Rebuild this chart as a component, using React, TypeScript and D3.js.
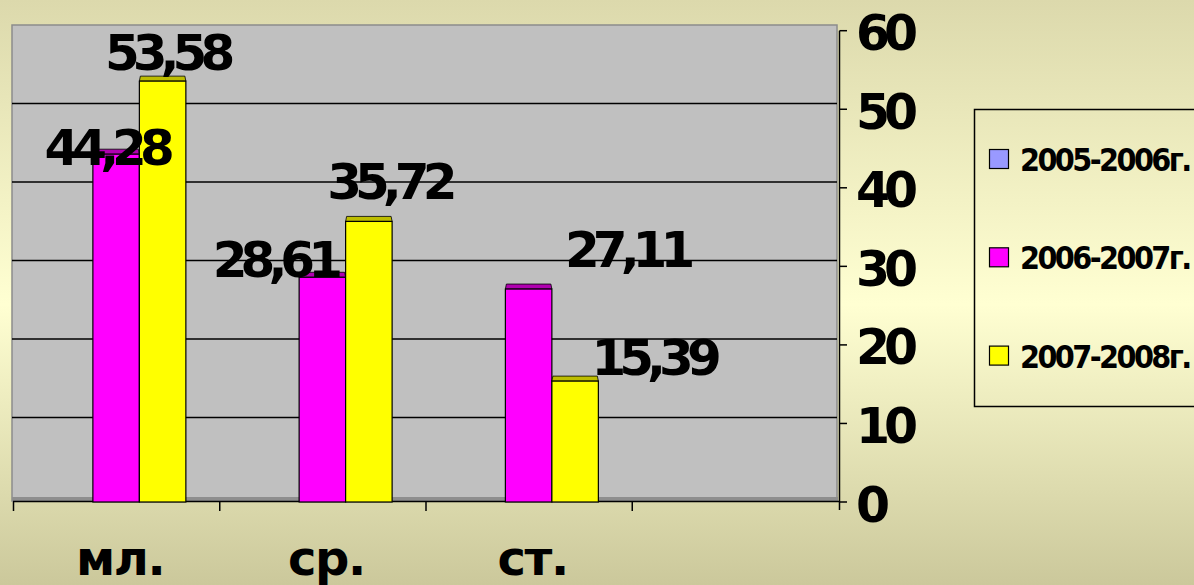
import * as d3 from 'd3';

// data
const categories = ['мл.', 'ср.', 'ст.', ''];
const seriesNames = ['2005-2006г.', '2006-2007г.', '2007-2008г.'];
const seriesColors = ['#9999FF', '#FF00FF', '#FFFF00'];
const capColors = ['#7777CC', '#B000B0', '#BDBD00'];
const values2005: (number | null)[] = [null, null, null, null];
const values2006: (number | null)[] = [44.28, 28.61, 27.11, null];
const values2007: (number | null)[] = [53.58, 35.72, 15.39, null];
const yTicks = [0, 10, 20, 30, 40, 50, 60];

// hand-placed label nudges (dx, dy) as in the original slide
const labelNudge2006 = [[-10, 11], [-48, 0], [98, -22]];
const labelNudge2007 = [[4, -11], [20, -22], [78, -6]];

const seriesValues = [values2005, values2006, values2007];
const nudges = [[], labelNudge2006, labelNudge2007];

const W = 1194;
const H = 585;
const left = 13;
const right = 838;

const BOLD = '"DejaVu Sans", sans-serif';
const COND = '"DejaVu Sans Condensed", "DejaVu Sans", sans-serif';

export default function App() {
  const keys = categories.map((c, i) => c + i);
  const x = d3.scaleBand<string>().domain(keys).range([left, right]).padding(0);
  const inner = d3
    .scaleBand<string>()
    .domain(seriesNames)
    .range([0, x.bandwidth()])
    .paddingInner(0)
    .paddingOuter(0.718);
  const y = d3.scaleLinear().domain([0, 60]).range([502, 30.7]);
  const yWall = d3.scaleLinear().domain([0, 60]).range([496, 25]);
  const bw = inner.bandwidth();
  const fmt = (v: number) => v.toFixed(2).replace('.', ',');

  return (
    <svg width={W} height={H} style={{ position: 'absolute', left: 0, top: 0 }}>
      <defs>
        <linearGradient id="bg" x1="0" y1="0" x2="0" y2="1">
          <stop offset="0%" stopColor="#DCD9AC" />
          <stop offset="52%" stopColor="#FFFFD2" />
          <stop offset="100%" stopColor="#CBC89B" />
        </linearGradient>
      </defs>
      <rect x={0} y={0} width={W} height={H} fill="url(#bg)" />

      {/* back wall */}
      <rect x={12} y={25} width={825} height={476} fill="#C0C0C0" stroke="#8C8C8C" strokeWidth={1.5} />
      {yTicks
        .filter((t) => t > 0 && t < 60)
        .map((t) => (
          <line key={t} x1={12} x2={837} y1={yWall(t)} y2={yWall(t)} stroke="#000" strokeWidth={1.5} />
        ))}
      {/* floor */}
      <rect x={12} y={yWall(0) + 1} width={826} height={y(0) - yWall(0) - 1} fill="#8E8E8E" />
      <line x1={left} x2={right + 2} y1={y(0) - 0.5} y2={y(0) - 0.5} stroke="#000" strokeWidth={1.5} />

      {/* bars */}
      {seriesValues.map((vals, si) =>
        vals.map((v, ci) => {
          if (v == null) return null;
          const bx = (x(keys[ci]) as number) + (inner(seriesNames[si]) as number);
          const top = y(v);
          return (
            <g key={`${si}-${ci}`}>
              <polygon
                points={`${bx},${top} ${bx + 1},${top - 5} ${bx + bw - 1},${top - 5} ${bx + bw},${top}`}
                fill={capColors[si]}
                stroke="#000"
                strokeWidth={0.8}
              />
              <rect x={bx} y={top} width={bw} height={y(0) - top} fill={seriesColors[si]} stroke="#000" strokeWidth={1.2} />
            </g>
          );
        })
      )}

      {/* value labels */}
      {seriesValues.map((vals, si) =>
        vals.map((v, ci) => {
          if (v == null) return null;
          const cx = (x(keys[ci]) as number) + (inner(seriesNames[si]) as number) + bw / 2;
          const [dx, dy] = nudges[si][ci] || [0, 0];
          return (
            <text
              key={`l${si}-${ci}`}
              x={cx + dx}
              y={y(v) + dy}
              textAnchor="middle"
              fontFamily={BOLD}
              fontWeight="bold"
              fontSize={50}
              letterSpacing={-7}
              fill="#000"
            >
              {fmt(v)}
            </text>
          );
        })
      )}

      {/* right value axis */}
      <line x1={right + 1.5} x2={right + 1.5} y1={y(60)} y2={y(0) + 8} stroke="#000" strokeWidth={1.5} />
      {yTicks.map((t) => (
        <g key={`yt${t}`}>
          <line x1={right + 1.5} x2={right + 9} y1={y(t)} y2={y(t)} stroke="#000" strokeWidth={1.5} />
          <text
            x={856}
            y={y(t) + 3}
            dominantBaseline="central"
            fontFamily={BOLD}
            fontWeight="bold"
            fontSize={49}
            letterSpacing={-6}
            fill="#000"
          >
            {t}
          </text>
        </g>
      ))}

      {/* category axis */}
      {keys.map((k) => (
        <line
          key={`xt${k}`}
          x1={(x(k) as number) + 0.5}
          x2={(x(k) as number) + 0.5}
          y1={y(0)}
          y2={y(0) + 9}
          stroke="#000"
          strokeWidth={1.5}
        />
      ))}
      {keys.map((k, i) => (
        <text
          key={`xl${k}`}
          x={(x(k) as number) + x.bandwidth() / 2 + 4}
          y={575}
          textAnchor="middle"
          fontFamily={BOLD}
          fontWeight="bold"
          fontSize={48}
          letterSpacing={-1.5}
          fill="#000"
        >
          {categories[i]}
        </text>
      ))}

      {/* legend */}
      <rect x={974.5} y={109.5} width={260} height={297} fill="none" stroke="#000" strokeWidth={1.5} />
      {seriesNames.map((name, i) => {
        const cy = 159 + i * 98.3;
        return (
          <g key={name}>
            <rect x={989.5} y={cy - 9.5} width={19} height={19} fill={seriesColors[i]} stroke="#000" strokeWidth={1.2} />
            <text
              x={1020}
              y={cy + 1}
              dominantBaseline="central"
              fontFamily={COND}
              fontWeight="bold"
              fontSize={32}
              letterSpacing={-2.6}
              fill="#000"
            >
              {name}
            </text>
          </g>
        );
      })}
    </svg>
  );
}
